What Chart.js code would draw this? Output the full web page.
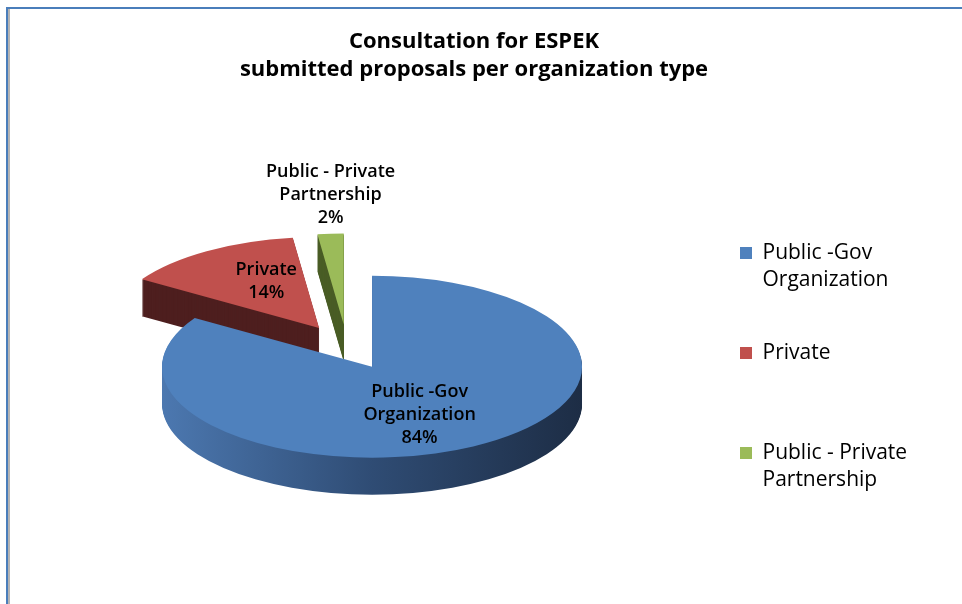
<!DOCTYPE html>
<html>
<head>
<meta charset="utf-8">
<script src="https://cdn.jsdelivr.net/npm/chart.js@4.4.0/dist/chart.umd.min.js"></script>
<style>
  html, body { margin: 0; padding: 0; background: #fff; }
  #wrap { position: relative; width: 962px; height: 604px; overflow: hidden; }
  #frame {
    position: absolute; left: 6px; top: 7px; width: 1000px; height: 700px;
    border-top: 2px solid #4a7ebb; border-left: 2px solid #4a7ebb;
    box-shadow: inset 2px 0 0 #b4b4b4;
  }
  canvas { position: absolute; left: 0; top: 0; }
</style>
</head>
<body>
<div id="wrap">
  <div id="frame"></div>
  <canvas id="pieChart" width="962" height="604"></canvas>
</div>
<script>
// ── Data ──────────────────────────────────────────────────────────────────────
const categories = [
  ['Public -Gov', 'Organization'],
  ['Private'],
  ['Public - Private', 'Partnership'],
];
const shares = [84, 14, 2];   // % of submitted proposals

const titleLines = ['Consultation for ESPEK', 'submitted proposals per organization type'];

// ── Colours ───────────────────────────────────────────────────────────────────
const topColors  = ['#4f81bd', '#c0504d', '#9bbb59'];
const sideColors = [['#4c78b0', '#2f4c74', '#1d2d45'], ['#4e1f1f'], ['#4a5d26']];

const FONT = "'Open Sans', 'Noto Sans', sans-serif";

// ── 3D pie: tilted, extruded, exploded slices + data labels ─────────────────
const pie3d = {
  id: 'pie3d',
  beforeLayout(chart, args, opts) {
    // fixed legend column width (gap between pie and legend as in the original)
    const lg = chart.legend;
    if (lg && !lg._fixedFit) {
      const fit = lg.fit;
      lg.fit = function () { fit.call(this); this.width = opts.legendWidth; };
      lg._fixedFit = true;
    }
  },
  beforeDatasetsDraw(chart, args, opts) {
    const ctx = chart.ctx;
    const meta = chart.getDatasetMeta(0);
    const slices = meta.data.map((el, i) => ({ el, i, mid: (el.startAngle + el.endAngle) / 2 }));
    slices.sort((a, b) => Math.sin(a.mid) - Math.sin(b.mid)); // back to front

    slices.forEach(({ el, i, mid }) => {
      const place = dy => {
        ctx.translate(el.x + Math.cos(mid) * opts.explode,
                      el.y + dy + Math.sin(mid) * opts.explode * opts.tilt);
        ctx.scale(1, opts.tilt);
        ctx.translate(-el.x, -el.y);
      };
      const stops = sideColors[i];
      for (let d = opts.depth; d > 0; d--) {
        ctx.save();
        place(d);
        if (stops.length > 1) {
          const g = ctx.createLinearGradient(el.x - el.outerRadius, 0, el.x + el.outerRadius, 0);
          stops.forEach((c, k) => g.addColorStop(k / (stops.length - 1), c));
          ctx.fillStyle = g;
        } else {
          ctx.fillStyle = stops[0];
        }
        ctx.beginPath();
        ctx.moveTo(el.x, el.y);
        ctx.arc(el.x, el.y, el.outerRadius, el.startAngle, el.endAngle);
        ctx.closePath();
        ctx.fill();
        ctx.restore();
      }
      ctx.save();
      place(0);
      el.draw(ctx);
      ctx.restore();
    });
    return false;
  },
  afterDraw(chart, args, opts) {
    const ctx = chart.ctx;
    const meta = chart.getDatasetMeta(0);
    const total = shares.reduce((a, b) => a + b, 0);
    const lh = opts.labelLineHeight;
    ctx.save();
    ctx.font = `${opts.labelWeight} ${opts.labelSize}px ${FONT}`;
    ctx.fillStyle = '#000';
    ctx.textAlign = 'center';
    ctx.textBaseline = 'middle';
    meta.data.forEach((el, i) => {
      const mid = (el.startAngle + el.endAngle) / 2;
      const frac = shares[i] / total;
      const lines = [...categories[i], Math.round(frac * 100) + '%'];
      const ex = el.x + Math.cos(mid) * opts.explode;
      const ey = el.y + Math.sin(mid) * opts.explode * opts.tilt;
      let cx, cy;
      if (frac < 0.05) {
        // small slice: label above the outer end
        cx = ex + Math.cos(mid) * el.outerRadius;
        const rimY = ey + Math.sin(mid) * el.outerRadius * opts.tilt;
        cy = rimY - opts.labelGap - lh / 2 - (lines.length - 1) * lh / 2;
      } else {
        const r = el.outerRadius * opts.labelAt;
        cx = ex + Math.cos(mid) * r;
        cy = ey + Math.sin(mid) * r * opts.labelTilt;
      }
      lines.forEach((t, k) => ctx.fillText(t, cx, cy + (k - (lines.length - 1) / 2) * lh));
    });
    ctx.restore();
  },
};

// ── Chart ─────────────────────────────────────────────────────────────────────
new Chart(document.getElementById('pieChart'), {
  type: 'pie',
  data: {
    labels: categories.map(c => c.join(' ')),
    datasets: [{
      data: shares,
      backgroundColor: topColors,
      borderWidth: 0,
      radius: 210,
      clip: false,
    }],
  },
  options: {
    responsive: false,
    animation: false,
    devicePixelRatio: 1,
    layout: { padding: { left: 0, right: 14, top: 0, bottom: 61.5 } },
    plugins: {
      tooltip: { enabled: false },
      title: {
        display: true,
        text: titleLines,
        color: '#000',
        font: { family: FONT, size: 22, weight: 'bold', lineHeight: '28px' },
        padding: { top: 28, bottom: 67.5 },
      },
      legend: {
        position: 'right',
        align: 'end',
        fullSize: false,
        labels: {
          boxWidth: 12,
          boxHeight: 12,
          padding: 46,
          color: '#000',
          font: { family: FONT, size: 21, lineHeight: '27px' },
          generateLabels: () => categories.map((lines, i) => ({
            text: lines.length > 1 ? lines : [...lines, ''],
            fillStyle: topColors[i],
            strokeStyle: topColors[i],
            lineWidth: 0,
            hidden: false,
            index: i,
          })),
        },
      },
      pie3d: {
        tilt: 0.433,
        depth: 37,
        explode: 52,
        legendWidth: 254,
        labelAt: 0.47,
        labelTilt: 0.56,
        labelGap: 4,
        labelSize: 18,
        labelWeight: '600',
        labelLineHeight: 23,
      },
    },
  },
  plugins: [pie3d],
});
</script>
</body>
</html>
